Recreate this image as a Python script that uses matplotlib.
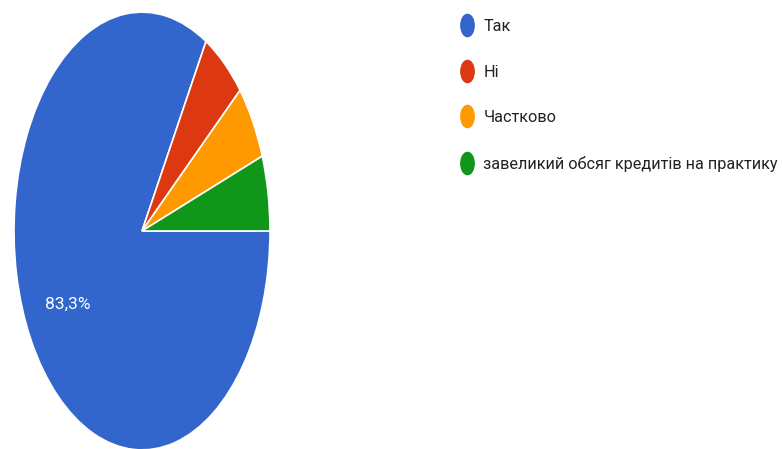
import numpy as np
import matplotlib.pyplot as plt
from matplotlib.path import Path
from matplotlib.transforms import Affine2D
from matplotlib.lines import Line2D

labels = ['Так', 'Ні', 'Частково', 'завеликий обсяг кредитів на практику']
values = [15, 1, 1, 1]
colors = ['#3366CC', '#DC3912', '#FF9900', '#109618']

W, H = 783, 449
stretch = 1.71  # the source picture is squashed horizontally
font = ['Roboto', 'DejaVu Sans']

fig = plt.figure(figsize=(W / 100, H / 100), dpi=100)
ax = fig.add_axes([0, 0, 1, 1])


def pct(p):
    return ('%.1f%%' % p).replace('.', ',') if p > 10 else ''


wedges, _, autotexts = ax.pie(values, colors=colors, startangle=0, counterclock=False,
                              center=(142, (H - 231) / stretch), radius=128,
                              autopct=pct, pctdistance=0.67,
                              wedgeprops=dict(edgecolor='white', linewidth=1.2),
                              textprops=dict(color='white', fontsize=12.5, family=font))
ax.set_aspect('auto')
ax.set_xlim(0, W)
ax.set_ylim(0, H / stretch)
ax.axis('off')

# tall oval legend marker
oval = Path.unit_circle().transformed(Affine2D().scale(0.6, 1.0))
handles = [Line2D([], [], linestyle='none', marker=oval, markersize=16,
                  markerfacecolor=c, markeredgecolor=c) for c in colors]
fig.legend(handles, labels, loc='upper left', bbox_to_anchor=(459 / W, 1 - 19 / H),
           frameon=False, borderpad=0, handlelength=1.0, handletextpad=0.5,
           labelspacing=1.88, borderaxespad=0,
           prop=dict(family=font, size=11.7),
           labelcolor='#222222')

fig.savefig('out.png', dpi=100)
